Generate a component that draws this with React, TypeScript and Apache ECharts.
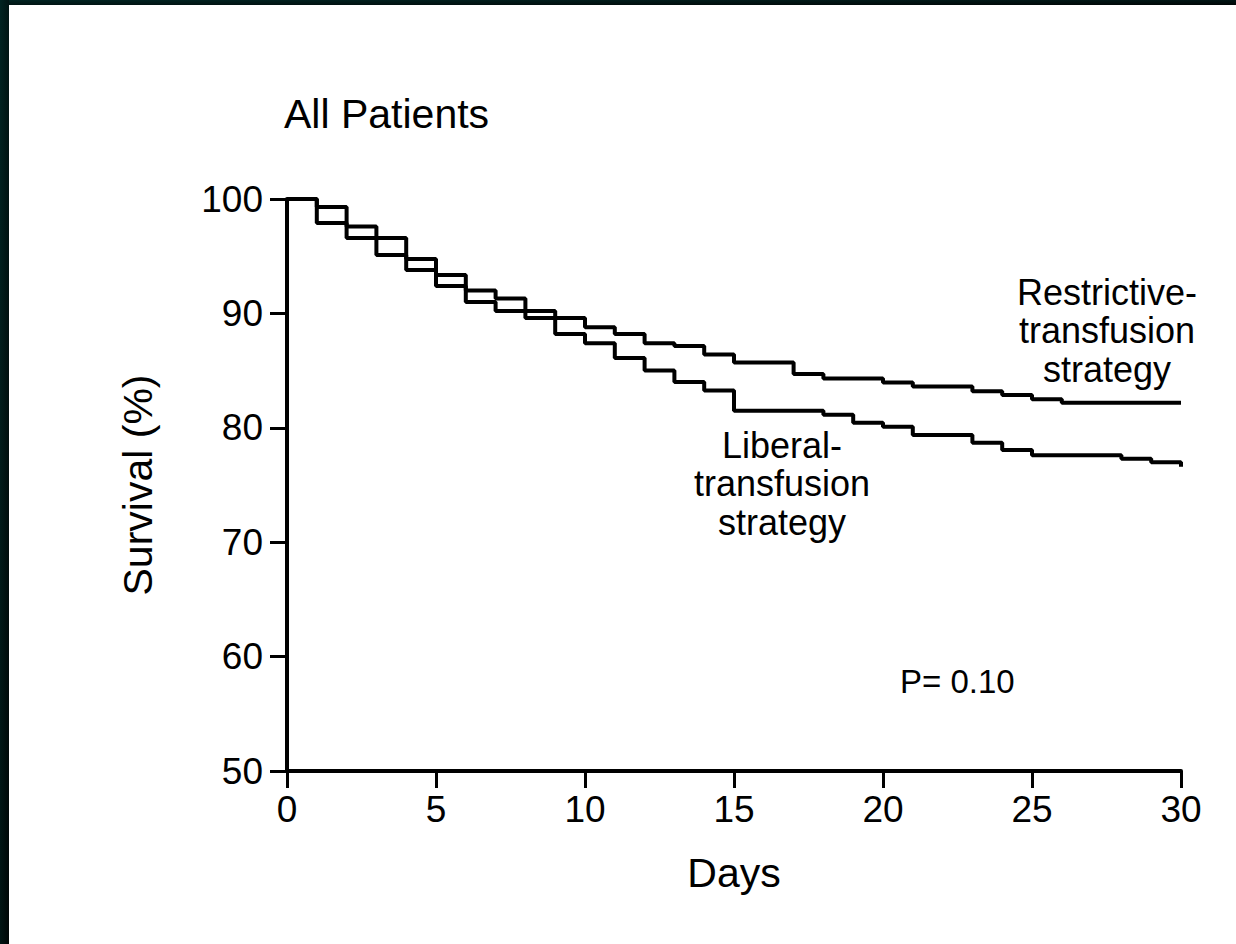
import React, { useEffect, useRef } from "react";
import * as echarts from "echarts";

// Kaplan-Meier change points (day, survival %)
const liberalDays = [0, 1, 2, 3, 4, 5, 6, 7, 8, 9, 10, 11, 12, 13, 14, 15, 18, 19, 20, 21, 23, 24, 25, 28, 29, 30];
const liberalSurvival = [100, 99.3, 97.6, 96.6, 94.75, 93.35, 92.0, 91.3, 90.2, 88.2, 87.4, 86.1, 85.0, 84.0, 83.25, 81.5, 81.15, 80.45, 80.1, 79.37, 78.7, 78.06, 77.6, 77.3, 76.98, 76.6];

const restrictiveDays = [0, 1, 2, 3, 4, 5, 6, 7, 8, 10, 11, 12, 13, 14, 15, 17, 18, 20, 21, 23, 24, 25, 26, 30];
const restrictiveSurvival = [100, 97.9, 96.6, 95.1, 93.8, 92.4, 91.0, 90.2, 89.6, 88.8, 88.2, 87.4, 87.15, 86.4, 85.7, 84.7, 84.3, 83.95, 83.6, 83.2, 82.87, 82.5, 82.2, 82.2];

const xRange = [0, 30];
const xStep = 5;
const yRange = [50, 100];
const yStep = 10;

const titleText = "All Patients";
const xName = "Days";
const yName = "Survival (%)";
const restrictiveLabel = "Restrictive-\ntransfusion\nstrategy";
const liberalLabel = "Liberal-\ntransfusion\nstrategy";
const pValueText = "P= 0.10";

const FONT = "'Liberation Sans', Arial, Helvetica, sans-serif";

export default function App() {
  const ref = useRef<HTMLDivElement>(null);

  useEffect(() => {
    if (!ref.current) return;
    const chart = echarts.init(ref.current, undefined, { renderer: "svg" });
    const zip = (d: number[], v: number[]) => d.map((x, i) => [x, v[i]]);
    const border = new echarts.graphic.LinearGradient(0, 0, 1, 1, [
      { offset: 0, color: "#012422" },
      { offset: 1, color: "#000606" },
    ]);

    chart.setOption({
      animation: false,
      backgroundColor: "#ffffff",
      title: {
        text: titleText,
        left: 284,
        top: 93,
        padding: 0,
        textStyle: { fontFamily: FONT, fontSize: 41, fontWeight: "normal", color: "#000" },
      },
      grid: {
        left: 287,
        right: 55,
        top: 199,
        bottom: 173,
        containLabel: false,
        outerBoundsMode: "none",
      },
      xAxis: {
        type: "value",
        min: xRange[0],
        max: xRange[1],
        interval: xStep,
        name: xName,
        nameLocation: "middle",
        nameGap: 81,
        nameTextStyle: { fontFamily: FONT, fontSize: 41, color: "#000" },
        axisLine: { show: true, onZero: false, lineStyle: { color: "#000", width: 4 } },
        axisTick: { show: true, inside: false, length: 17, lineStyle: { color: "#000", width: 3 } },
        axisLabel: { margin: 20, fontFamily: FONT, fontSize: 37, color: "#000" },
        splitLine: { show: false },
      },
      yAxis: {
        type: "value",
        min: yRange[0],
        max: yRange[1],
        interval: yStep,
        name: yName,
        nameLocation: "middle",
        nameGap: 129,
        nameTextStyle: { fontFamily: FONT, fontSize: 41, color: "#000" },
        axisLine: { show: true, onZero: false, lineStyle: { color: "#000", width: 4 } },
        axisTick: { show: true, inside: false, length: 17, lineStyle: { color: "#000", width: 3 } },
        axisLabel: { margin: 24, fontFamily: FONT, fontSize: 37, color: "#000" },
        splitLine: { show: false },
      },
      series: [
        {
          name: "Liberal-transfusion strategy",
          type: "line",
          step: "end",
          symbol: "none",
          data: zip(liberalDays, liberalSurvival),
          lineStyle: { color: "#000", width: 4 },
        },
        {
          name: "Restrictive-transfusion strategy",
          type: "line",
          step: "end",
          symbol: "none",
          data: zip(restrictiveDays, restrictiveSurvival),
          lineStyle: { color: "#000", width: 4 },
        },
      ],
      graphic: [
        { type: "rect", left: 0, top: 0, shape: { width: 1236, height: 5 }, style: { fill: border }, silent: true },
        { type: "rect", left: 0, top: 0, shape: { width: 9, height: 944 }, style: { fill: border }, silent: true },
        {
          type: "text",
          x: 1107,
          y: 273,
          style: {
            text: restrictiveLabel,
            fontFamily: FONT,
            fontSize: 36,
            lineHeight: 38.5,
            fill: "#000",
            align: "center",
            verticalAlign: "top",
          },
        },
        {
          type: "text",
          x: 782,
          y: 426,
          style: {
            text: liberalLabel,
            fontFamily: FONT,
            fontSize: 36,
            lineHeight: 38.5,
            fill: "#000",
            align: "center",
            verticalAlign: "top",
          },
        },
        {
          type: "text",
          x: 900,
          y: 681,
          style: {
            text: pValueText,
            fontFamily: FONT,
            fontSize: 33,
            fill: "#000",
            align: "left",
            verticalAlign: "middle",
          },
        },
      ],
    });
    return () => chart.dispose();
  }, []);

  return (
    <div
      ref={ref}
      style={{ position: "fixed", left: 0, top: 0, width: 1236, height: 944, background: "#fff" }}
    />
  );
}
